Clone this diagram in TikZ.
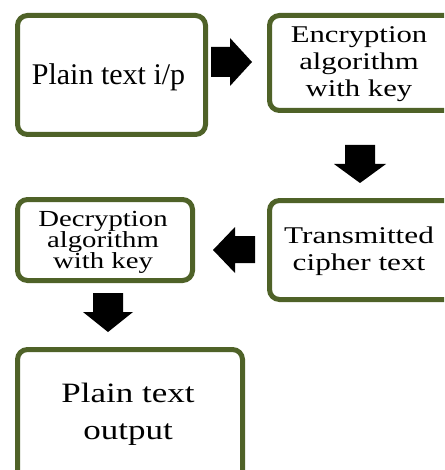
\documentclass[tikz,border=0pt]{standalone}
\usepackage{fontspec}
\setmainfont{Liberation Serif}
\usepackage{graphicx}
\definecolor{olive}{RGB}{79,98,40}
\tikzset{
  box/.style={draw=olive, line width=5pt, rounded corners=10pt, fill=white, inner sep=0pt},
  lbl/.style={anchor=base, inner sep=0pt, text=black},
  blk/.style={fill=black}
}
\newcommand\sx[2]{\scalebox{#1}[1]{#2}}
\begin{document}
\begin{tikzpicture}[x=1pt,y=-1pt]
\useasboundingbox (0,0) rectangle (444,470);
\clip (0,0) rectangle (444,470);
% boxes
\node[box, minimum width=188pt, minimum height=119pt] (b1) at (111.5,75) {};
\node[box, minimum width=190.5pt, minimum height=95pt] (b2) at (364.75,63) {};
\node[box, minimum width=190.5pt, minimum height=99pt] (b3) at (364.75,250) {};
\node[box, minimum width=175pt, minimum height=81pt] (b4) at (105,240) {};
\node[box, minimum width=225pt, minimum height=140.5pt] (b5) at (130,419.75) {};
% texts
\node[lbl, font=\fontsize{30}{32}\selectfont] (t1) at (108.5,85) {Plain text i/p};
\node[lbl, font=\fontsize{24}{26}\selectfont] (t2a) at (359,43) {\sx{1.28}{Encryption}};
\node[lbl, font=\fontsize{24}{26}\selectfont] (t2b) at (359,70) {\sx{1.28}{algorithm}};
\node[lbl, font=\fontsize{24}{26}\selectfont] (t2c) at (359,97) {\sx{1.28}{with key}};
\node[lbl, font=\fontsize{24}{26}\selectfont] (t3a) at (359,243) {\sx{1.3}{Transmitted}};
\node[lbl, font=\fontsize{24}{26}\selectfont] (t3b) at (359,270) {\sx{1.3}{cipher text}};
\node[lbl, font=\fontsize{23}{25}\selectfont] (t4a) at (103,226) {\sx{1.25}{Decryption}};
\node[lbl, font=\fontsize{23}{25}\selectfont] (t4b) at (103,247) {\sx{1.25}{algorithm}};
\node[lbl, font=\fontsize{23}{25}\selectfont] (t4c) at (103,268) {\sx{1.25}{with key}};
\node[lbl, font=\fontsize{28}{30}\selectfont] (t5a) at (128,402) {\sx{1.25}{Plain text}};
\node[lbl, font=\fontsize{28}{30}\selectfont] (t5b) at (128,439) {\sx{1.25}{output}};
% block arrows
\fill[blk] (211,47) -- (230,47) -- (230,38) -- (252,62) -- (230,86) -- (230,77) -- (211,77) -- cycle;
\fill[blk] (345,145) -- (375,145) -- (375,164) -- (386,164) -- (360,183) -- (334,164) -- (345,164) -- cycle;
\fill[blk] (255,236) -- (235,236) -- (235,227) -- (213,250) -- (235,273) -- (235,263) -- (255,263) -- cycle;
\fill[blk] (93,293) -- (123,293) -- (123,312) -- (133,312) -- (108,332) -- (83,312) -- (93,312) -- cycle;
\end{tikzpicture}
\end{document}
